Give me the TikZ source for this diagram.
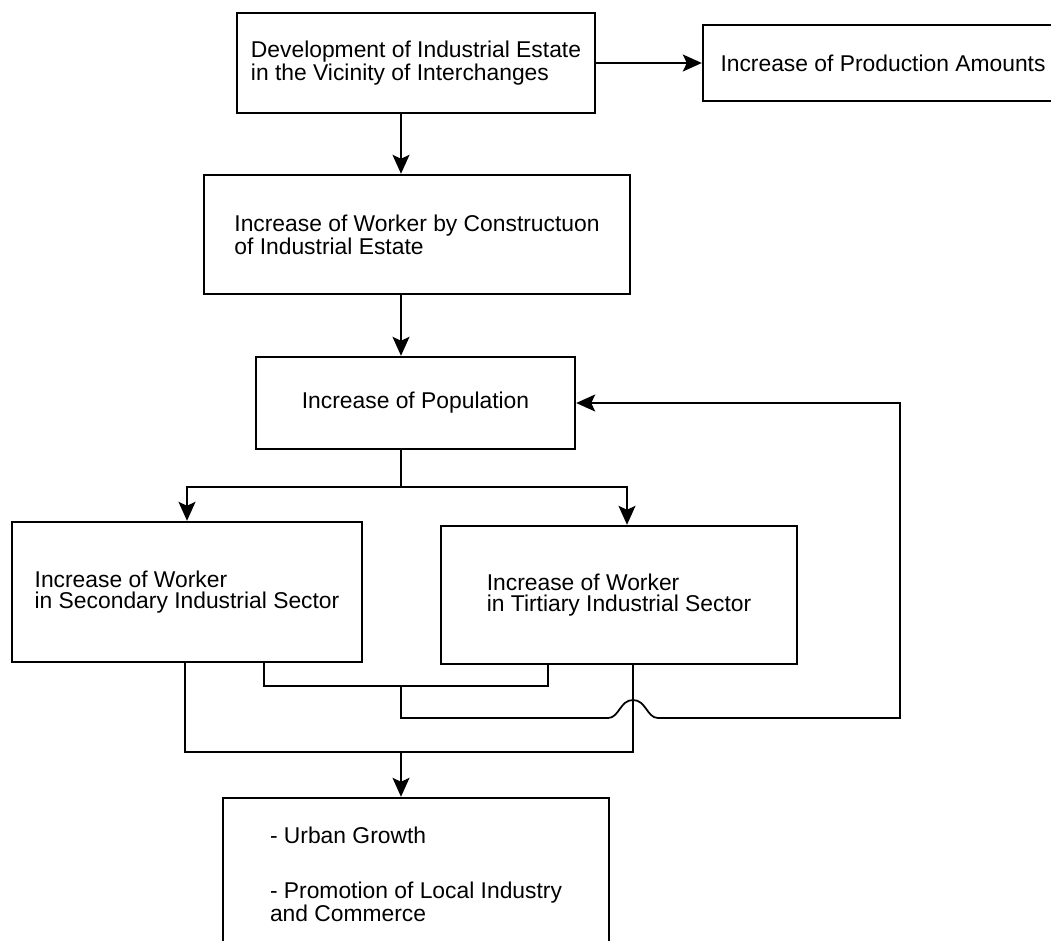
\documentclass[tikz,border=0pt]{standalone}
\usepackage{fontspec}
\setmainfont{Liberation Sans}
\usetikzlibrary{arrows.meta}

\begin{document}
\begin{tikzpicture}[x=0.02cm,y=-0.02cm,
    box/.style={draw,line width=1.4pt,align=left,inner sep=0pt,
      font=\fontsize{13pt}{12pt}\selectfont},
    arr/.style={line width=1pt,-{Stealth[length=3.8mm,width=3.4mm,inset=0.8mm]}},
    wire/.style={line width=1pt}]
	\clip (0,0) rectangle (1051,940);

	\node[box,minimum width=7.16cm,minimum height=2cm] (dev) at (416,63)
	  {Development of Industrial Estate\\in the Vicinity of Interchanges};
	\node[box,minimum width=7.2cm,minimum height=1.52cm] (prod) at (883,63)
	  {Increase of Production Amounts};
	\node[box,minimum width=8.52cm,minimum height=2.38cm] (constr) at (417,234.5)
	  {Increase of Worker by Constructuon\\of Industrial Estate};
	\node[box,minimum width=6.38cm,minimum height=1.84cm] (pop) at (415.5,403)
	  {Increase of Population};
	\node[box,minimum width=7cm,minimum height=2.8cm] (second) at (187,592)
	  {Increase of Worker\\in Secondary Industrial Sector};
	\node[box,minimum width=7.12cm,minimum height=2.76cm] (tert) at (619,595)
	  {Increase of Worker\\in Tirtiary Industrial Sector};
	\node[box,minimum width=7.72cm,minimum height=3.06cm] (growth) at (416,874.5)
	  {- Urban Growth\\[19pt]- Promotion of Local Industry\\and Commerce};

	\coordinate (split) at (401,487);
	\coordinate (inL) at (264,686);
	\coordinate (inR) at (548,686);
	\coordinate (fbL) at (401,718);
	\coordinate (fbR) at (900,718);
	\coordinate (outL) at (185,752);
	\coordinate (outR) at (633,752);

	\draw[arr] (dev) -- (prod);
	\draw[arr] (dev.south -| split) -- (constr.north -| split);
	\draw[arr] (constr.south -| split) -- (pop.north -| split);
	\draw[wire] (pop.south -| split) -- (split);
	\draw[arr] (split) -| (second.north);
	\draw[arr] (split) -| ([xshift=0.16cm]tert.north);

	% worker loops
	\draw[wire] (second.south -| inL) |- (inR) -- (tert.south -| inR);
	\draw[wire] (second.south -| outL) |- (outR) -- (tert.south -| outR);

	% feedback to population, jumping the outer loop
	\draw[arr] (inL -| split) -- (fbL) -- (608,718)
	  .. controls (619,718) and (620,700) .. (633,700)
	  .. controls (646,700) and (647,718) .. (658,718) -- (fbR) |- (pop.east);

	\draw[arr] (outL -| split) -- (growth.north -| split);
\end{tikzpicture}
\end{document}
